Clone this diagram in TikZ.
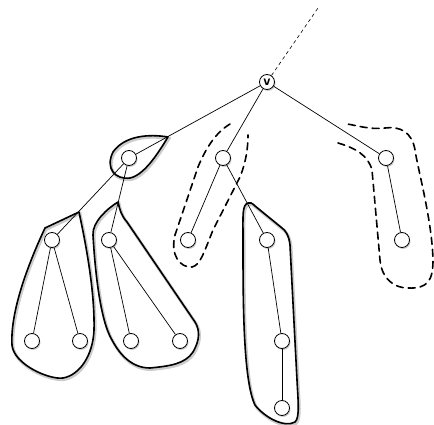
\documentclass[tikz,border=0pt]{standalone}
\usepackage{tikz}
\usetikzlibrary{shadows}

\begin{document}
\begin{tikzpicture}[
        x=1pt, y=-1pt,
        vertex/.style={draw, circle, fill=white, line width=0.8pt, minimum size=15pt, inner sep=0pt,
            font=\sffamily\bfseries\Large, drop shadow={shadow xshift=1pt, shadow yshift=-1.5pt, opacity=0.4}},
        edge/.style={line width=0.7pt},
        group/.style={line width=1.6pt, line join=round,
            preaction={draw=black!20, line width=3pt, transform canvas={xshift=1pt, yshift=-1.5pt}}},
        open/.style={line width=1.6pt, dash pattern=on 7pt off 5pt, line cap=round}
    ]
    \useasboundingbox (0,0) rectangle (434,425);

    % regions
    \draw[group] (168,137) .. controls (150,134) and (125,135) .. (113,152)
        .. controls (105,168) and (115,180) .. (130,178)
        .. controls (145,175) and (160,150) .. cycle;
    \draw[group] (79,212) -- (45,228) .. controls (30,260) and (10,310) .. (12,345)
        .. controls (14,365) and (50,380) .. (63,378)
        .. controls (80,375) and (93,355) .. (94,330)
        .. controls (95,290) and (85,240) .. cycle;
    \draw[group] (118,202) .. controls (108,208) and (92,222) .. (93,235)
        .. controls (95,270) and (100,320) .. (112,340)
        .. controls (120,355) and (132,368) .. (150,368)
        .. controls (170,366) and (185,364) .. (193,352)
        .. controls (200,340) and (200,330) .. (195,322)
        -- (127,222) .. controls (121,215) and (120,210) .. cycle;
    \draw[group] (248,203) .. controls (242,205) and (243,215) .. (243,240)
        .. controls (243,300) and (243,380) .. (255,405)
        .. controls (265,418) and (285,428) .. (295,422)
        .. controls (300,418) and (298,400) .. (297,380)
        -- (290,245) .. controls (289,235) and (285,230) .. (282,228)
        -- (255,206) .. controls (252,203) and (250,202) .. cycle;
    \draw[open] (230,124) .. controls (215,133) and (205,150) .. (198,167)
        -- (175,235) .. controls (170,255) and (180,268) .. (192,267)
        .. controls (200,265) and (203,255) .. (213,230)
        -- (240,177) .. controls (246,162) and (248,148) .. (248,135);
    \draw[open] (338,143) .. controls (355,148) and (368,155) .. (372,170)
        -- (380,260) .. controls (382,280) and (395,288) .. (408,288)
        .. controls (428,289) and (433,280) .. (433,260)
        .. controls (432,220) and (418,170) .. (415,150)
        .. controls (412,132) and (400,126) .. (385,128)
        .. controls (370,130) and (355,125) .. (347,124);

    % tree
    \coordinate (up) at (318,8);
    \node (v) [vertex] at (267,82) {v};
    \node (l) [vertex] at (129,158) {};
    \node (m) [vertex] at (223,158) {};
    \node (r) [vertex] at (386,158) {};
    \node (l1) [vertex] at (52,240) {};
    \node (l2) [vertex] at (109,240) {};
    \node (m1) [vertex] at (188,240) {};
    \node (m2) [vertex] at (267,240) {};
    \node (r1) [vertex] at (402,240) {};
    \node (l1a) [vertex] at (32,341) {};
    \node (l1b) [vertex] at (80,341) {};
    \node (l2a) [vertex] at (131,341) {};
    \node (l2b) [vertex] at (180,341) {};
    \node (m3) [vertex] at (282,341) {};
    \node (m4) [vertex] at (282,408) {};

    \draw[line width=0.6pt, dash pattern=on 3.5pt off 3pt] (v) -- (up);
    \foreach \a/\b in {v/l, v/m, v/r, l/l1, l/l2, m/m1, m/m2, r/r1,
        l1/l1a, l1/l1b, l2/l2a, l2/l2b, m2/m3, m3/m4}
        \draw[edge] (\a) -- (\b);
\end{tikzpicture}
\end{document}
